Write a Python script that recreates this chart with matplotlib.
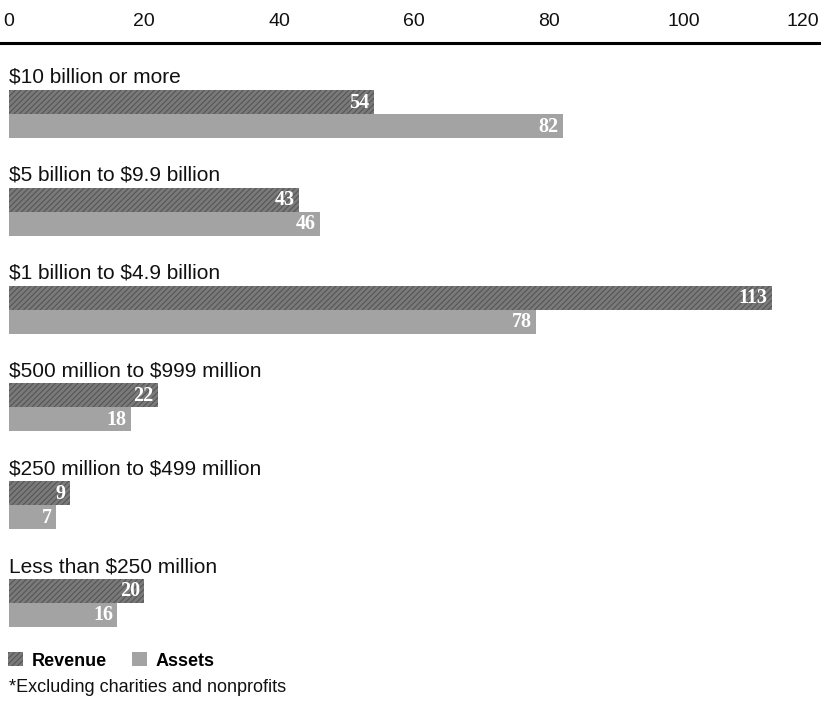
import matplotlib
matplotlib.use("Agg")
import matplotlib.pyplot as plt
from matplotlib.patches import Patch

# Companies by size class
categories = [
    "$10 billion or more",
    "$5 billion to $9.9 billion",
    "$1 billion to $4.9 billion",
    "$500 million to $999 million",
    "$250 million to $499 million",
    "Less than $250 million",
]
revenue = [54, 43, 113, 22, 9, 20]
assets = [82, 46, 78, 18, 7, 16]
x_ticks = [0, 20, 40, 60, 80, 100, 120]
series_names = ["Revenue", "Assets"]
footnote = "*Excluding charities and nonprofits"

REV_COLOR = "#7a7a7a"
REV_HATCH = "#555555"
AST_COLOR = "#a3a3a3"

plt.rcParams["font.family"] = ["Liberation Sans", "DejaVu Sans"]
plt.rcParams["text.parse_math"] = False
plt.rcParams["hatch.linewidth"] = 0.8

W, H = 821, 703
fig = plt.figure(figsize=(W / 100, H / 100), dpi=100)

# axes in pixel terms: top edge at the rule, bars below
left_px, right_px = 9, 819
top_px, bottom_px = 43, 640
ax = fig.add_axes([left_px / W, 1 - bottom_px / H,
                   (right_px - left_px) / W, (bottom_px - top_px) / H])
ax.set_xlim(0, 120)
ax.set_ylim(bottom_px - top_px, 0)

group_step = 97.8
bar_h = 24
first_top = 47

for i, cat in enumerate(categories):
    g = first_top + i * group_step
    ax.barh(g + bar_h / 2, revenue[i], height=bar_h, color=REV_COLOR,
            hatch="//////", edgecolor=REV_HATCH, linewidth=0)
    ax.barh(g + bar_h * 1.5, assets[i], height=bar_h, color=AST_COLOR,
            linewidth=0)
    ax.text(0, g - 3, cat, fontsize=15, va="bottom", ha="left", color="#111111")
    for val, yc in ((revenue[i], g + bar_h / 2), (assets[i], g + bar_h * 1.5)):
        ax.text(val - 0.6, yc + 0.5, str(val), ha="right", va="center",
                color="white", fontsize=14.5, fontweight="bold",
                family=["Liberation Serif", "DejaVu Serif"])

# value axis on top with a heavy rule
ax.xaxis.tick_top()
ax.set_xticks(x_ticks)
ax.set_xticklabels([str(t) for t in x_ticks], fontsize=14, color="#111111")
ax.tick_params(axis="x", length=0, pad=9)
ax.get_xticklabels()[-1].set_ha("right")
ax.set_yticks([])
for s in ax.spines.values():
    s.set_visible(False)
ax.axhline(0, xmin=-0.012, xmax=1.01, color="black", lw=2.2, clip_on=False)

handles = [Patch(facecolor=REV_COLOR, hatch="//////", edgecolor=REV_HATCH, linewidth=0),
           Patch(facecolor=AST_COLOR, linewidth=0)]
fig.legend(handles, series_names, loc="center left",
           bbox_to_anchor=(-8 / W, 1 - 661 / H), ncol=2, frameon=False,
           handlelength=0.8, handleheight=0.8, handletextpad=0.5,
           columnspacing=1.4, prop={"weight": "bold", "size": 13})

fig.text(9 / W, 1 - 687 / H, footnote, fontsize=13, va="center", ha="left",
         color="#111111")

fig.savefig("out.png", dpi=100, facecolor="white")
